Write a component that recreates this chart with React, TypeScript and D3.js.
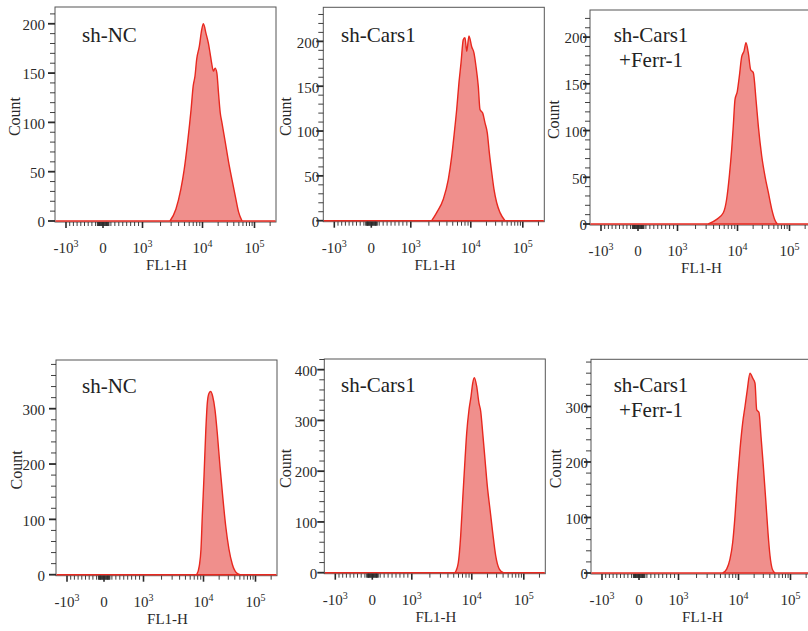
import React from 'react';
import * as d3 from 'd3';

// ---------- DATA ----------
const panelTitles: string[][] = [
  ['sh-NC'],
  ['sh-Cars1'],
  ['sh-Cars1', '+Ferr-1'],
  ['sh-NC'],
  ['sh-Cars1'],
  ['sh-Cars1', '+Ferr-1'],
];

const xTickValues = [-1000, 0, 1000, 10000, 100000];
const xTickBase = ['-10', '0', '10', '10', '10'];
const xTickExp = ['3', '', '3', '4', '5'];
const xAxisTitle = 'FL1-H';
const yAxisTitle = 'Count';

const yMaxes = [217, 238, 229, 388, 421, 385];
const yTickSets = [
  [0, 50, 100, 150, 200],
  [0, 50, 100, 150, 200],
  [0, 50, 100, 150, 200],
  [0, 100, 200, 300],
  [0, 100, 200, 300, 400],
  [0, 100, 200, 300],
];
const yMinorSteps = [10, 10, 10, 20, 20, 20];

// FL1-H intensity (x) and cell count (y) for each histogram
const p1Fl1 = [2870, 3600, 4350, 4950, 5650, 6450, 7000, 7500, 8000, 8850, 9700, 10400, 11700, 13000, 14000, 15100, 16200, 17500, 18900, 20300, 21900, 23600, 27400, 31700, 36900, 42800, 49500, 57700];
const p1Count = [0, 12, 32, 52, 80, 113, 137, 147, 164, 177, 194, 200, 190, 180, 170, 159, 152, 155, 150, 130, 110, 100, 80, 60, 42, 25, 9, 0];

const p2Fl1 = [2230, 2700, 3480, 4220, 4810, 5310, 5820, 6350, 6870, 7500, 8000, 8550, 9330, 10400, 11530, 12590, 13930, 15030, 16940, 18750, 20750, 22700, 25230, 27930, 31480, 36480, 45500];
const p2Count = [0, 9, 24, 46, 72, 98, 124, 154, 176, 202, 204, 189, 206, 194, 187, 172, 150, 124, 120, 109, 98, 76, 54, 35, 20, 9, 0];

const p3Fl1 = [3260, 4500, 5800, 6610, 7300, 8000, 8510, 9080, 9930, 10840, 12050, 13340, 14560, 16140, 17950, 20140, 22700, 25120, 29170, 33810, 39080, 45480, 52600, 58210];
const p3Count = [0, 5, 12, 27, 51, 80, 105, 133, 142, 158, 179, 185, 194, 183, 165, 162, 133, 105, 73, 51, 34, 16, 4, 0];

const p4Fl1 = [7710, 8510, 9080, 9550, 10230, 11020, 11830, 12760, 13740, 15030, 16630, 18410, 20750, 23390, 26730, 30900, 35810, 43450, 50350];
const p4Count = [0, 16, 46, 106, 178, 256, 310, 328, 331, 322, 298, 256, 196, 142, 88, 46, 19, 3, 0];

const p5Fl1 = [5250, 5960, 6530, 7050, 7710, 8220, 8980, 9700, 10400, 11170, 12420, 13740, 14830, 16220, 17950, 19860, 22390, 25230, 28840, 33810, 40360];
const p5Count = [0, 20, 73, 144, 223, 275, 321, 347, 373, 384, 367, 334, 318, 275, 223, 171, 125, 79, 33, 7, 0];

const p6Fl1 = [5460, 6350, 7210, 8000, 8750, 9550, 10690, 12050, 13340, 14760, 16630, 18750, 20750, 22390, 24770, 27100, 29990, 33340, 36900, 40360, 44670, 50350];
const p6Count = [0, 7, 25, 55, 103, 163, 223, 271, 300, 330, 360, 351, 342, 294, 289, 246, 193, 133, 73, 31, 7, 0];

const fl1Series = [p1Fl1, p2Fl1, p3Fl1, p4Fl1, p5Fl1, p6Fl1];
const countSeries = [p1Count, p2Count, p3Count, p4Count, p5Count, p6Count];

// ---------- LAYOUT ----------
const LAYOUT = [
  { left: 55, top: 7, bottom: 222, yGap: 10, countX: -41, tx: 27, ty: 35, anchor: 'start' },
  { left: 323.3, top: 7.3, bottom: 221.7, yGap: 4, countX: -38, tx: 17.7, ty: 34.7, anchor: 'start' },
  { left: 590, top: 10, bottom: 225, yGap: 3, countX: -37, tx: 61, ty: 32, anchor: 'middle' },
  { left: 56, top: 360, bottom: 575.7, yGap: 11, countX: -40, tx: 26, ty: 32.7, anchor: 'start' },
  { left: 324.3, top: 359, bottom: 573.7, yGap: 7, countX: -39, tx: 16.7, ty: 33, anchor: 'start' },
  { left: 591, top: 359.3, bottom: 574, yGap: 3, countX: -36, tx: 60, ty: 32.7, anchor: 'middle' },
];
const PW = 221;
const FONT = "'Liberation Serif', 'Times New Roman', serif";
const FILL = '#f08f8c';
const STROKE = '#e8281f';
const INK = '#2a2a2a';

// biexponential-like display transform
const toDisplay = (v: number) =>
  Math.abs(v) <= 1000 ? v / 1000 : Math.sign(v) * (1 + Math.log10(Math.abs(v) / 1000));

const xs = d3.scaleLinear().domain([-1, 0, 1, 2, 3]).range([11, 48, 87.5, 147.5, 199.5]);
const xPos = (v: number) => xs(toDisplay(v));

const minorX: number[] = [
  ...d3.range(-900, 1000, 100).filter((v) => v !== 0),
  ...d3.range(-150, 151, 15).filter((v) => v !== 0),
  ...[1000, 10000, 100000].flatMap((d) => d3.range(2, 10).map((m) => m * d)),
].filter((v) => xPos(v) >= 0 && xPos(v) <= PW);

function Panel({ i }: { i: number }) {
  const L = LAYOUT[i];
  const h = L.bottom - L.top;
  const y = d3.scaleLinear().domain([0, yMaxes[i]]).range([h - 1, 0]);
  const pts = fl1Series[i].map((v, k) => ({ v, c: countSeries[i][k] }));
  const area = d3
    .area<{ v: number; c: number }>()
    .x((d) => xPos(d.v))
    .y0(h - 1)
    .y1((d) => y(d.c))
    .curve(d3.curveMonotoneX);
  const line = d3
    .line<{ v: number; c: number }>()
    .x((d) => xPos(d.v))
    .y((d) => y(d.c))
    .curve(d3.curveMonotoneX);
  const minorY = d3.range(0, yMaxes[i] + 0.01, yMinorSteps[i]).filter((v) => !yTickSets[i].includes(v));
  const titles = panelTitles[i];
  return (
    <g transform={`translate(${L.left},${L.top})`}>
      <rect x={0} y={0} width={PW} height={h} fill="#fff" stroke="#555" strokeWidth={1} />
      <path d={area(pts) || ''} fill={FILL} />
      <line x1={0.5} x2={PW - 0.5} y1={h - 1} y2={h - 1} stroke={STROKE} strokeWidth={1.4} />
      <path d={line(pts) || ''} fill="none" stroke={STROKE} strokeWidth={1.4} />
      {/* x axis ticks */}
      {minorX.map((v, k) => (
        <line key={'mx' + k} x1={xPos(v)} x2={xPos(v)} y1={h} y2={h + 4} stroke={INK} strokeWidth={0.9} />
      ))}
      {xTickValues.map((v, k) => (
        <line key={'Mx' + k} x1={xPos(v)} x2={xPos(v)} y1={h} y2={h + 6} stroke={INK} strokeWidth={1.6} />
      ))}
      {xTickValues.map((v, k) => (
        <text key={'xl' + k} x={xPos(v)} y={h + 31} textAnchor="middle" fontSize={15} fill={INK} fontFamily={FONT}>
          <tspan>{xTickBase[k]}</tspan>
          {xTickExp[k] && (
            <tspan dy={-6} fontSize={10}>
              {xTickExp[k]}
            </tspan>
          )}
        </text>
      ))}
      <text x={PW / 2 + 1} y={h + 48} textAnchor="middle" fontSize={15} fill={INK} fontFamily={FONT}>
        {xAxisTitle}
      </text>
      {/* y axis ticks */}
      {minorY.map((v, k) => (
        <line key={'my' + k} x1={-5} x2={0} y1={y(v)} y2={y(v)} stroke={INK} strokeWidth={0.9} />
      ))}
      {yTickSets[i].map((v, k) => (
        <line key={'My' + k} x1={-7} x2={0} y1={y(v)} y2={y(v)} stroke={INK} strokeWidth={1.8} />
      ))}
      {yTickSets[i].map((v, k) => (
        <text key={'yl' + k} x={-L.yGap} y={y(v)} dy="0.42em" textAnchor="end" fontSize={15} fill={INK} fontFamily={FONT}>
          {v}
        </text>
      ))}
      <text
        transform={`translate(${L.countX},${h / 2 + 2}) rotate(-90)`}
        dy="0.35em"
        textAnchor="middle"
        fontSize={16}
        fill={INK}
        fontFamily={FONT}
      >
        {yAxisTitle}
      </text>
      {titles.map((t, k) => (
        <text
          key={'t' + k}
          x={L.tx}
          y={L.ty + k * 25}
          textAnchor={L.anchor as any}
          fontSize={21}
          fill="#222"
          fontFamily={FONT}
        >
          {t}
        </text>
      ))}
    </g>
  );
}

export default function App() {
  return (
    <svg
      width={808}
      height={631}
      viewBox="0 0 808 631"
      style={{ position: 'absolute', left: 0, top: 0, background: '#fff', display: 'block' }}
    >
      <rect x={0} y={0} width={808} height={631} fill="#fff" />
      {LAYOUT.map((_, i) => (
        <Panel key={i} i={i} />
      ))}
    </svg>
  );
}
